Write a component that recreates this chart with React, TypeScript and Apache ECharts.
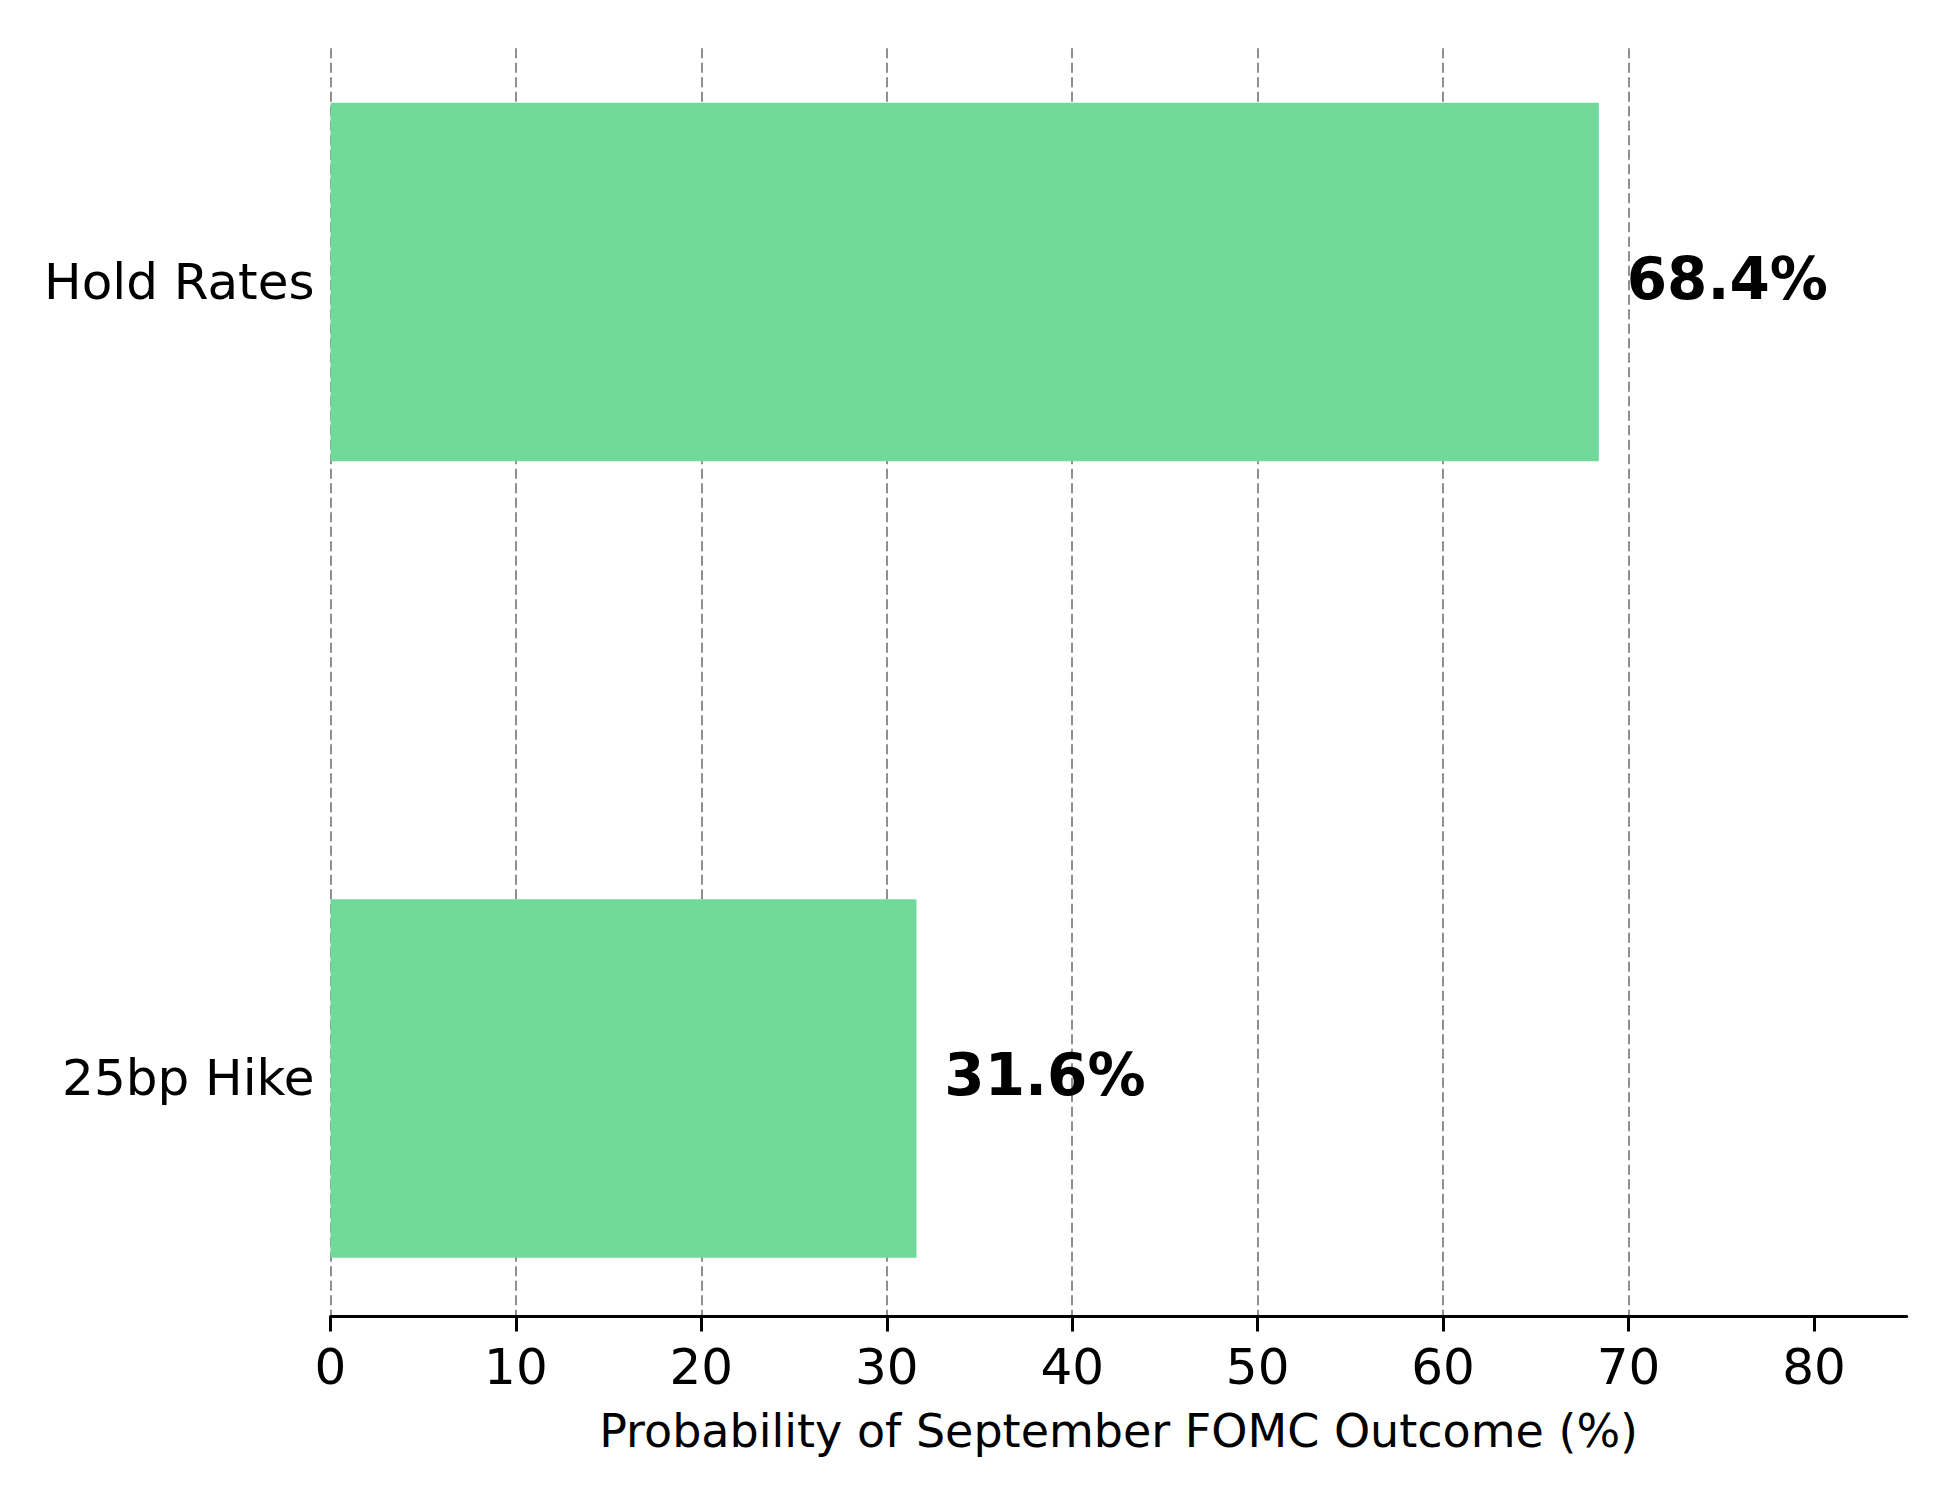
import React, { useEffect, useRef } from "react";
import * as echarts from "echarts";

const categories = ["25bp Hike", "Hold Rates"];
const probabilities = [31.6, 68.4];
const xTickValues = [0, 10, 20, 30, 40, 50, 60, 70, 80];
const axisTitle = "Probability of September FOMC Outcome (%)";

const BAR_COLOR = "#71d99a";
const BAR_HEIGHT = 0.45;
const FONT = '"DejaVu Sans", "Liberation Sans", sans-serif';

export default function App() {
  const ref = useRef<HTMLDivElement>(null);

  useEffect(() => {
    if (!ref.current) return;
    const chart = echarts.init(ref.current, null, { renderer: "svg" });
    const data = probabilities.map((v, i) => [v, i]);
    const option: any = {
      animation: false,
      backgroundColor: "#ffffff",
      grid: {
        left: 330.5,
        right: 43.3,
        top: 48.3,
        bottom: 183.5,
        containLabel: false,
        outerBoundsMode: "none",
      },
      xAxis: {
        type: "value",
        min: 0,
        max: 85,
        interval: 10,
        name: axisTitle,
        nameLocation: "middle",
        nameGap: 91,
        nameTextStyle: { fontFamily: FONT, fontSize: 46, color: "#000" },
        axisLine: { show: true, onZero: false, lineStyle: { color: "#000", width: 3 } },
        axisTick: {
          show: true,
          length: 15,
          inside: false,
          customValues: xTickValues,
          lineStyle: { color: "#000", width: 3 },
        },
        axisLabel: {
          customValues: xTickValues,
          margin: 25,
          fontFamily: FONT,
          fontSize: 50,
          color: "#000",
        },
        splitLine: {
          show: true,
          showMaxLine: false,
          lineStyle: { color: "#8f8f8f", width: 2, type: [10, 4.5] },
        },
      },
      yAxis: {
        type: "value",
        min: -0.2988,
        max: 1.2933,
        axisLine: { show: false },
        axisTick: { show: false },
        splitLine: { show: false },
        axisLabel: {
          customValues: [0, 1],
          formatter: (v: number) => categories[Math.round(v)] ?? "",
          margin: 16,
          fontFamily: FONT,
          fontSize: 50,
          color: "#000",
          verticalAlign: "middle",
          padding: [8, 0, 0, 0],
        },
      },
      series: [
        {
          type: "custom",
          data,
          encode: { x: 0, y: 1 },
          renderItem: (params: any, api: any) => {
            const v = api.value(0);
            const c = api.value(1);
            const start = api.coord([0, c]);
            const end = api.coord([v, c]);
            const h = api.size([0, BAR_HEIGHT])[1];
            const labelPos = api.coord([v + 1.5, c]);
            return {
              type: "group",
              children: [
                {
                  type: "rect",
                  shape: {
                    x: start[0],
                    y: start[1] - h / 2,
                    width: end[0] - start[0],
                    height: h,
                  },
                  style: { fill: BAR_COLOR },
                },
                {
                  type: "text",
                  x: labelPos[0],
                  y: labelPos[1] - 3,
                  style: {
                    text: v.toFixed(1) + "%",
                    fill: "#000",
                    font: "bold 58px " + FONT,
                    textAlign: "left",
                    textVerticalAlign: "middle",
                    align: "left",
                    verticalAlign: "middle",
                  },
                },
              ],
            };
          },
        },
      ],
    };
    chart.setOption(option);
    return () => chart.dispose();
  }, []);

  return (
    <div
      ref={ref}
      style={{ position: "absolute", left: 0, top: 0, width: 1950, height: 1500 }}
    />
  );
}
